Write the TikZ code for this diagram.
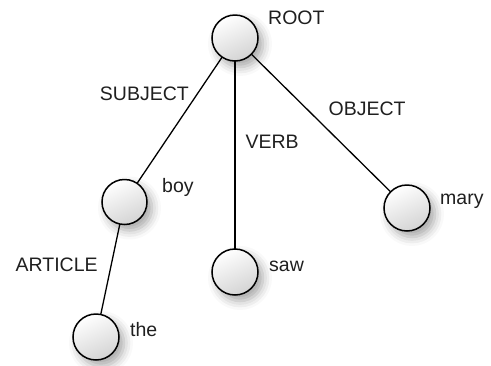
\documentclass[tikz,border=0pt]{standalone}
\usepackage{fontspec}
\setmainfont{Liberation Sans}
\usetikzlibrary{positioning,shadows.blur}
\tikzset{
  word/.style={circle,draw=black,line width=1.5pt,minimum size=46pt,
               inner sep=0pt,outer sep=0pt,
               top color=white,bottom color=black!17,shading angle=25,
               blur shadow={shadow xshift=5pt,shadow yshift=-6pt,
                            shadow blur radius=9pt,shadow opacity=35}},
  tag/.style={font=\fontsize{19.5}{22}\selectfont,inner sep=0pt,text=black!88},
  link/.style={line width=1.3pt}
}

\begin{document}
\begin{tikzpicture}[x=1pt,y=-1pt]
  \useasboundingbox (0,0) rectangle (491,365);
  % the parse tree
  \node[word,label={[tag,anchor=base west,xshift=10pt,yshift=14pt]east:ROOT}]
    (root) at (235,38) {};
  \node[word,minimum size=45pt,
        label={[tag,anchor=base west,xshift=15pt,yshift=10pt]east:boy}]
    (boy) at (124.5,202) {};
  \node[word,label={[tag,anchor=base west,xshift=11pt,yshift=1pt]east:saw}]
    (saw) at (235,272) {};
  \node[word,label={[tag,anchor=base west,xshift=10pt,yshift=4pt]east:mary}]
    (mary) at (407,208) {};
  \node[word,label={[tag,anchor=base west,xshift=11pt,yshift=1pt]east:the}]
    (the) at (96,337) {};

  \draw[link] (root) -- node[tag,pos=.29,left=8pt] {SUBJECT} (boy);
  \draw[link] (root) -- node[tag,pos=.43,right=10pt] {VERB} (saw);
  \draw[link] (root) -- node[tag,pos=.40,right=21pt] {OBJECT} (mary);
  \draw[link] (boy) -- node[tag,pos=.45,left=13pt] {ARTICLE} (the);
\end{tikzpicture}
\end{document}
